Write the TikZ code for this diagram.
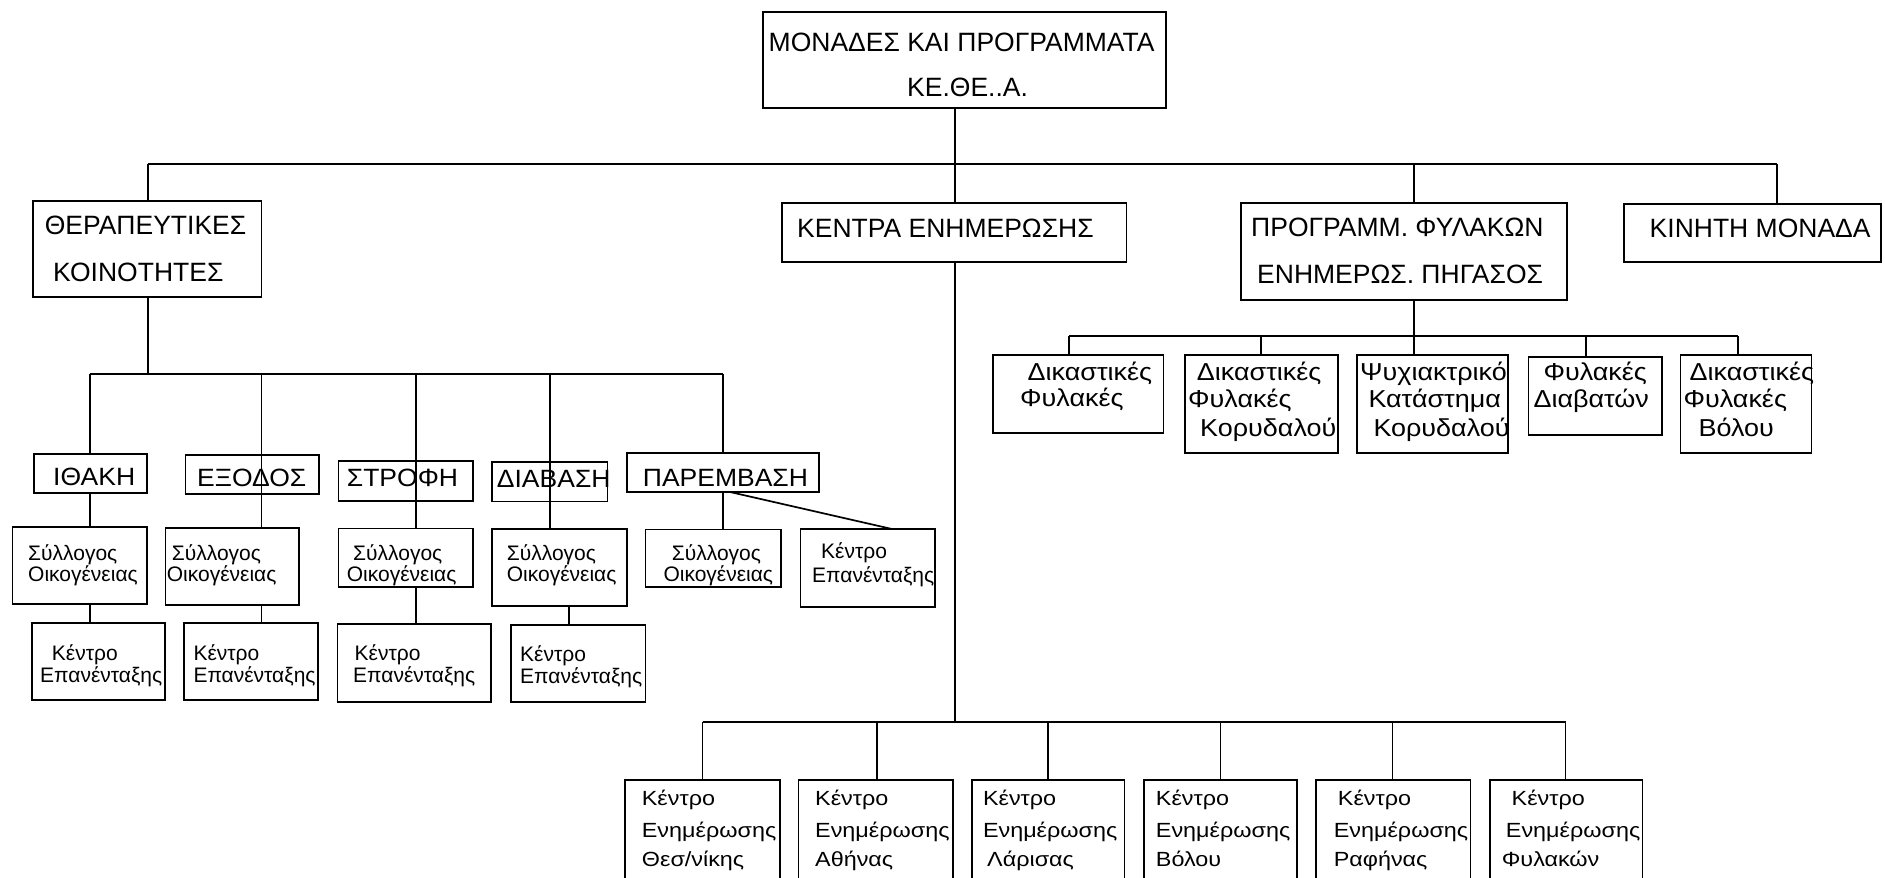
\documentclass[tikz,border=0pt]{standalone}
\usepackage{fontspec}
\setmainfont{Liberation Sans}
\newfontfamily\fnameF{Liberation Sans}[FakeStretch=1.06]
\newfontfamily\frightF{Liberation Sans}[FakeStretch=1.1]
\newfontfamily\fbotF{Liberation Sans}[FakeStretch=1.14]
\usetikzlibrary{fit}
\newcommand\fhead{\fontsize{26.5}{30}\selectfont}
\newcommand\fname{\fnameF\fontsize{25}{28}\selectfont}
\newcommand\fsmall{\fontsize{21}{24}\selectfont}
\newcommand\fright{\frightF\fontsize{24.5}{28}\selectfont}
\newcommand\fbot{\fbotF\fontsize{20.5}{24}\selectfont}
\tikzset{
  bx/.style={draw, inner sep=0pt, outer sep=0pt, line width=1.7pt},
  conn/.style={line width=1.7pt},
  ht/.style={inner sep=0pt, anchor=base west, font=\fhead},
  nt/.style={inner sep=0pt, anchor=base west, font=\fname},
  st/.style={inner sep=0pt, anchor=base west, font=\fsmall},
  rt/.style={inner sep=0pt, anchor=base west, font=\fright},
  bt/.style={inner sep=0pt, anchor=base west, font=\fbot},
}
\begin{document}
\begin{tikzpicture}[x=1pt,y=-1pt]
\useasboundingbox[fill=white] (0,0) rectangle (1885,878);
% ---------- boxes ----------
\node[bx, fit={(763,12)(1166,108)}] (R) {};
\node[bx, fit={(33,201)(261.5,297)}] (T) {};
\node[bx, fit={(782,203)(1126.5,262)}] (K) {};
\node[bx, fit={(1241,203)(1567,300)}] (P) {};
\node[bx, fit={(1624,204)(1881,262)}] (M) {};
% names row
\node[bx, fit={(34,454)(147,493)}] (I1) {};
\node[bx, fit={(185.5,455)(319,494)}] (I2) {};
\node[bx, fit={(338.5,461)(473,501)}] (I3) {};
\node[bx, fit={(492,462)(607.5,501.5)}] (I4) {};
\node[bx, fit={(627,453)(819,492)}] (I5) {};
% family row
\node[bx, fit={(12.5,527)(147,604)}] (S1) {};
\node[bx, fit={(165.5,528)(299,605)}] (S2) {};
\node[bx, fit={(338.5,528.5)(473,587)}] (S3) {};
\node[bx, fit={(492,529)(627,606)}] (S4) {};
\node[bx, fit={(645.5,529.5)(781,587)}] (S5) {};
\node[bx, fit={(800.6,529)(935,607)}] (K5) {};
% reintegration row
\node[bx, fit={(31.7,623)(165,700)}] (E1) {};
\node[bx, fit={(184,623)(318,700)}] (E2) {};
\node[bx, fit={(337.6,624)(491,702)}] (E3) {};
\node[bx, fit={(511,625)(645.5,702)}] (E4) {};
% prison programme row
\node[bx, fit={(993,355)(1163.5,433)}] (F1) {};
\node[bx, fit={(1185,355)(1338,453)}] (F2) {};
\node[bx, fit={(1356.7,355)(1508,453)}] (F3) {};
\node[bx, fit={(1528.4,357)(1662,435)}] (F4) {};
\node[bx, fit={(1680.5,355)(1811.6,453)}] (F5) {};
% information centres row
\node[bx, fit={(625,780)(780,900)}] (B1) {};
\node[bx, fit={(798.5,780)(952.7,900)}] (B2) {};
\node[bx, fit={(972,780)(1124.6,900)}] (B3) {};
\node[bx, fit={(1144,780)(1297,900)}] (B4) {};
\node[bx, fit={(1316,780)(1470.5,900)}] (B5) {};
\node[bx, fit={(1490,780)(1642.6,900)}] (B6) {};
% ---------- texts ----------
\node[ht] (tR1) at (768.5,51.7) {ΜΟΝΑΔΕΣ ΚΑΙ ΠΡΟΓΡΑΜΜΑΤΑ};
\node[ht] (tR2) at (907,96.7) {ΚΕ.ΘΕ..Α.};
\node[ht] (tT1) at (44.6,234) {ΘΕΡΑΠΕΥΤΙΚΕΣ};
\node[ht] (tT2) at (53,281) {ΚΟΙΝΟΤΗΤΕΣ};
\node[ht] (tK) at (797,237) {ΚΕΝΤΡΑ ΕΝΗΜΕΡΩΣΗΣ};
\node[ht] (tP1) at (1251,236) {ΠΡΟΓΡΑΜΜ. ΦΥΛΑΚΩΝ};
\node[ht] (tP2) at (1257,283) {ΕΝΗΜΕΡΩΣ. ΠΗΓΑΣΟΣ};
\node[ht] (tM) at (1649.5,237) {ΚΙΝΗΤΗ ΜΟΝΑΔΑ};
\node[nt] (tI1) at (53,485.5) {ΙΘΑΚΗ};
\node[nt] (tI2) at (197,486) {ΕΞΟΔΟΣ};
\node[nt] (tI3) at (346.7,486.7) {ΣΤΡΟΦΗ};
\node[nt] (tI4) at (496.7,487) {ΔΙΑΒΑΣΗ};
\node[nt] (tI5) at (642.7,486.7) {ΠΑΡΕΜΒΑΣΗ};
\node[st] (tS1a) at (28,560) {Σύλλογος};
\node[st] (tS1b) at (28,581.5) {Οικογένειας};
\node[st] (tS2a) at (171.7,560) {Σύλλογος};
\node[st] (tS2b) at (166.7,581.5) {Οικογένειας};
\node[st] (tS3a) at (353,560) {Σύλλογος};
\node[st] (tS3b) at (346.7,581.5) {Οικογένειας};
\node[st] (tS4a) at (506.7,560) {Σύλλογος};
\node[st] (tS4b) at (506.7,581.5) {Οικογένειας};
\node[st] (tS5a) at (671.7,560) {Σύλλογος};
\node[st] (tS5b) at (663.3,581.5) {Οικογένειας};
\node[st] (tK5a) at (821,558) {Κέντρο};
\node[st] (tK5b) at (812,582) {Επανένταξης};
\node[st] (tE1a) at (51.7,660) {Κέντρο};
\node[st] (tE1b) at (40,682) {Επανένταξης};
\node[st] (tE2a) at (193.3,660) {Κέντρο};
\node[st] (tE2b) at (193.3,682) {Επανένταξης};
\node[st] (tE3a) at (354.5,660) {Κέντρο};
\node[st] (tE3b) at (353,682) {Επανένταξης};
\node[st] (tE4a) at (520,661) {Κέντρο};
\node[st] (tE4b) at (520,683) {Επανένταξης};
\node[rt] (tF1a) at (1027.5,380) {Δικαστικές};
\node[rt] (tF1b) at (1020,406) {Φυλακές};
\node[rt] (tF2a) at (1196.7,380) {Δικαστικές};
\node[rt] (tF2b) at (1188,407) {Φυλακές};
\node[rt] (tF2c) at (1200,436) {Κορυδαλού};
\node[rt] (tF3a) at (1360,380) {Ψυχιακτρικό};
\node[rt] (tF3b) at (1368.3,407) {Κατάστημα};
\node[rt] (tF3c) at (1373.3,436) {Κορυδαλού};
\node[rt] (tF4a) at (1543.3,380) {Φυλακές};
\node[rt] (tF4b) at (1533.3,407) {Διαβατών};
\node[rt] (tF5a) at (1689.4,380) {Δικαστικές};
\node[rt] (tF5b) at (1683.4,407) {Φυλακές};
\node[rt] (tF5c) at (1698.4,436) {Βόλου};
\node[bt] (tB1a) at (641.7,805.7) {Κέντρο};
\node[bt] (tB1b) at (641.7,837) {Ενημέρωσης};
\node[bt] (tB1c) at (641.7,866.7) {Θεσ/νίκης};
\node[bt] (tB2a) at (815,805.7) {Κέντρο};
\node[bt] (tB2b) at (815,837) {Ενημέρωσης};
\node[bt] (tB2c) at (815,866.7) {Αθήνας};
\node[bt] (tB3a) at (982.8,805.7) {Κέντρο};
\node[bt] (tB3b) at (982.8,837) {Ενημέρωσης};
\node[bt] (tB3c) at (987,866.7) {Λάρισας};
\node[bt] (tB4a) at (1155.7,805.7) {Κέντρο};
\node[bt] (tB4b) at (1155.7,837) {Ενημέρωσης};
\node[bt] (tB4c) at (1155.7,866.7) {Βόλου};
\node[bt] (tB5a) at (1337.7,805.7) {Κέντρο};
\node[bt] (tB5b) at (1333.6,837) {Ενημέρωσης};
\node[bt] (tB5c) at (1333.6,866.7) {Ραφήνας};
\node[bt] (tB6a) at (1511.5,805.7) {Κέντρο};
\node[bt] (tB6b) at (1505.7,837) {Ενημέρωσης};
\node[bt] (tB6c) at (1501.6,866.7) {Φυλακών};
% ---------- junction coordinates ----------
\coordinate (j0) at (955,164);
\coordinate (jT) at (148,164);
\coordinate (jP) at (1414,164);
\coordinate (jM) at (1777,164);
\coordinate (qT) at (148,374);
\coordinate (q1) at (90,374);
\coordinate (q2) at (261.5,374);
\coordinate (q3) at (416,374);
\coordinate (q4) at (550,374);
\coordinate (q5) at (723,374);
\coordinate (e4) at (569,0);
\coordinate (dA) at (730,0);
\coordinate (dB) at (892,0);
\coordinate (r1) at (1069,336);
\coordinate (r2) at (1260.7,336);
\coordinate (r3) at (1414,336);
\coordinate (r4) at (1585.7,336);
\coordinate (r5) at (1738,336);
\coordinate (u0) at (955,722);
\coordinate (u1) at (702.5,722);
\coordinate (u2) at (877,722);
\coordinate (u3) at (1048,722);
\coordinate (u4) at (1220.5,722);
\coordinate (u5) at (1392.6,722);
\coordinate (u6) at (1565.6,722);
% ---------- connectors ----------
\draw[conn] (R.south -| j0) -- (j0);
\draw[conn] (jT) -- (jM);
\draw[conn] (jT) -- (T.north -| jT);
\draw[conn] (j0) -- (K.north -| j0);
\draw[conn] (jP) -- (P.north -| jP);
\draw[conn] (jM) -- (M.north -| jM);
% therapeutic communities
\draw[conn] (T.south -| qT) -- (qT);
\draw[conn] (q1) -- (q5);
\draw[conn] (q1) -- (I1.north -| q1);
\draw[conn] (I1.south -| q1) -- (S1.north -| q1);
\draw[conn] (S1.south -| q1) -- (E1.north -| q1);
\draw[conn] (q2) -- (S2.north -| q2);
\draw[conn] (S2.south -| q2) -- (E2.north -| q2);
\draw[conn] (q3) -- (S3.north -| q3);
\draw[conn] (S3.south -| q3) -- (E3.north -| q3);
\draw[conn] (q4) -- (S4.north -| q4);
\draw[conn] (S4.south -| e4) -- (E4.north -| e4);
\draw[conn] (q5) -- (I5.north -| q5);
\draw[conn] (I5.south -| q5) -- (S5.north -| q5);
\draw[conn] (I5.south -| dA) -- (K5.north -| dB);
% prison programmes
\draw[conn] (P.south -| r3) -- (r3);
\draw[conn] (r1) -- (r5);
\draw[conn] (r1) -- (F1.north -| r1);
\draw[conn] (r2) -- (F2.north -| r2);
\draw[conn] (r3) -- (F3.north -| r3);
\draw[conn] (r4) -- (F4.north -| r4);
\draw[conn] (r5) -- (F5.north -| r5);
% information centres
\draw[conn] (K.south -| u0) -- (u0);
\draw[conn] (u1) -- (u6);
\draw[conn] (u1) -- (B1.north -| u1);
\draw[conn] (u2) -- (B2.north -| u2);
\draw[conn] (u3) -- (B3.north -| u3);
\draw[conn] (u4) -- (B4.north -| u4);
\draw[conn] (u5) -- (B5.north -| u5);
\draw[conn] (u6) -- (B6.north -| u6);
\end{tikzpicture}
\end{document}
